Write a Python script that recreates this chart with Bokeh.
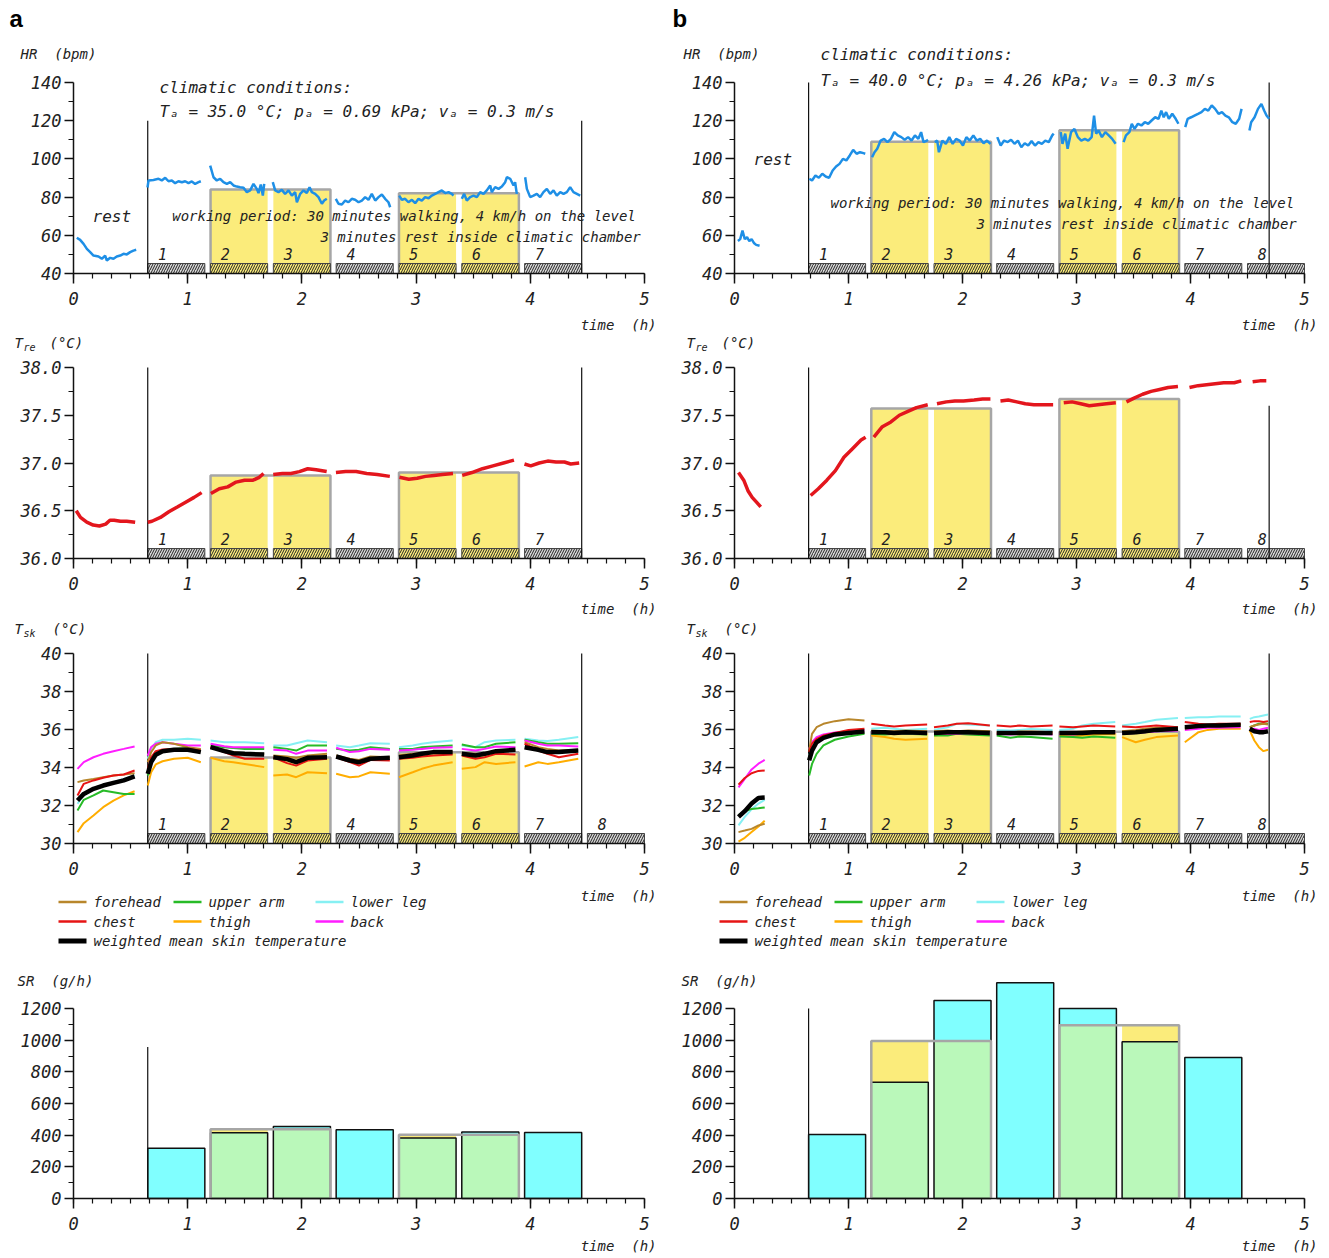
from bokeh.plotting import figure
from bokeh.models import Range1d, LinearAxis, FixedTicker, Label, PrintfTickFormatter
from bokeh.layouts import column, row
from bokeh.embed import file_html
from bokeh.resources import INLINE

nan = float("nan")

# ------------------------------------------------------------------ data
PERIOD_START = [0.65, 1.20, 1.75, 2.30, 2.85, 3.40, 3.95, 4.50]
PERIOD_END = [1.15, 1.70, 2.25, 2.80, 3.35, 3.90, 4.45, 5.00]
PERIOD_NAMES = ["1", "2", "3", "4", "5", "6", "7", "8"]
WORK_PAIRS = [(1, 2), (4, 5)]          # periods 2-3 and 5-6
WORK_IDX = [1, 2, 4, 5]

X_TICKS = [0, 1, 2, 3, 4, 5]
X_MINOR = [k / 6 for k in range(31)]
HR_TICKS = [40, 60, 80, 100, 120, 140]
HR_MINOR = [50, 70, 90, 110, 130]
TRE_TICKS = [36.0, 36.5, 37.0, 37.5, 38.0]
TRE_MINOR = [36.25, 36.75, 37.25, 37.75]
TSK_TICKS = [30, 32, 34, 36, 38, 40]
TSK_MINOR = [31, 33, 35, 37, 39]
SR_TICKS = [0, 200, 400, 600, 800, 1000, 1200]
SR_MINOR = [100, 300, 500, 700, 900, 1100]

# heart rate, panel a
HR_A_T = [0.029, 0.058, 0.088, 0.117, 0.146, 0.175, 0.219, 0.248, 0.277, 0.292, 0.321, 0.35, 0.379, 0.409, 0.438, 0.467, 0.496, 0.525, 0.549, nan,
          0.648, 0.657, 0.70, 0.744, 0.773, 0.803, 0.832, 0.861, 0.89, 0.919, 0.949, 0.978, 1.007, 1.036, 1.065, 1.095, 1.115, nan,
          1.197, 1.226, 1.255, 1.284, 1.313, 1.343, 1.372, 1.401, 1.430, 1.459, 1.489, 1.518, 1.547, 1.576, 1.605, 1.62, 1.64, 1.658, 1.67, nan,
          1.745, 1.766, 1.795, 1.824, 1.853, 1.883, 1.912, 1.941, 1.956, 1.985, 2.014, 2.043, 2.067, 2.087, 2.116, 2.145, 2.175, 2.195, 2.218, nan,
          2.297, 2.32, 2.35, 2.379, 2.408, 2.437, 2.466, 2.496, 2.525, 2.554, 2.583, 2.612, 2.642, 2.671, 2.7, 2.729, 2.758, 2.773, nan,
          2.852, 2.875, 2.904, 2.933, 2.963, 2.992, 3.021, 3.05, 3.079, 3.109, 3.138, 3.167, 3.196, 3.225, 3.255, 3.284, 3.313, 3.327, nan,
          3.40, 3.421, 3.444, 3.473, 3.503, 3.532, 3.561, 3.59, 3.619, 3.649, 3.663, 3.692, 3.722, 3.751, 3.78, 3.795, 3.824, 3.853, 3.867, 3.882, nan,
          3.955, 3.97, 3.999, 4.028, 4.057, 4.086, 4.115, 4.145, 4.174, 4.203, 4.232, 4.262, 4.291, 4.32, 4.349, 4.378, 4.408, 4.437]
HR_A_V = [58.7, 57.6, 55.5, 52.9, 51.2, 49.4, 48.9, 47.7, 49.4, 46.8, 48.2, 47.7, 48.9, 49.4, 50.3, 50.0, 51.2, 52.0, 52.4, nan,
          85.0, 88.7, 89.0, 89.6, 88.7, 90.1, 88.3, 88.7, 87.3, 88.3, 87.8, 88.3, 87.3, 88.2, 86.9, 87.8, 88.3, nan,
          96.5, 90.4, 88.7, 89.6, 87.8, 86.9, 87.8, 86.1, 85.5, 85.2, 84.9, 82.6, 83.5, 86.9, 84.3, 82.1, 86.6, 80.8, 86.9, nan,
          87.8, 83.5, 82.6, 83.8, 81.7, 83.5, 80.8, 82.6, 77.3, 81.7, 83.5, 82.1, 85.2, 82.6, 81.7, 80.0, 76.5, 78.2, 79.1, nan,
          79.1, 76.5, 76.1, 78.2, 77.3, 79.1, 78.6, 77.3, 78.2, 80.0, 78.6, 81.7, 78.2, 80.0, 81.4, 79.1, 77.3, 74.7, nan,
          80.8, 78.6, 79.1, 77.3, 78.6, 76.8, 79.1, 78.2, 80.0, 79.4, 80.8, 81.7, 82.6, 83.5, 82.1, 82.6, 81.7, 80.8, nan,
          79.1, 81.7, 78.2, 80.0, 80.8, 80.0, 82.6, 81.7, 83.5, 86.1, 82.6, 85.2, 84.3, 85.5, 87.8, 90.4, 89.6, 86.1, 87.8, 81.7, nan,
          90.4, 84.3, 80.0, 80.8, 81.7, 80.0, 82.6, 84.3, 81.7, 83.5, 80.8, 82.6, 81.7, 82.6, 85.2, 82.6, 81.7, 80.8]

# heart rate, panel b
HR_B_T = [0.03, 0.05, 0.07, 0.09, 0.11, 0.13, 0.15, 0.17, 0.19, 0.22, nan,
          0.656, 0.68, 0.71, 0.74, 0.77, 0.80, 0.83, 0.861, 0.891, 0.921, 0.951, 0.981, 1.011, 1.041, 1.071, 1.101, 1.131, 1.147, nan,
          1.207, 1.228, 1.252, 1.282, 1.312, 1.342, 1.372, 1.402, 1.432, 1.463, 1.493, 1.523, 1.553, 1.583, 1.613, 1.637, 1.658, 1.688, 1.697, nan,
          1.757, 1.778, 1.793, 1.823, 1.854, 1.884, 1.914, 1.944, 1.974, 2.004, 2.034, 2.064, 2.095, 2.125, 2.155, 2.185, 2.215, 2.245, nan,
          2.305, 2.335, 2.365, 2.397, 2.426, 2.456, 2.486, 2.516, 2.546, 2.576, 2.606, 2.636, 2.666, 2.696, 2.726, 2.757, 2.787, 2.80, nan,
          2.862, 2.877, 2.901, 2.922, 2.952, 2.982, 3.012, 3.042, 3.073, 3.103, 3.133, 3.154, 3.172, 3.193, 3.223, 3.253, 3.283, 3.313, 3.343, nan,
          3.413, 3.434, 3.464, 3.485, 3.509, 3.539, 3.569, 3.599, 3.629, 3.659, 3.69, 3.72, 3.744, 3.765, 3.786, 3.81, 3.84, 3.87, 3.894, nan,
          3.954, 3.975, 4.005, 4.035, 4.066, 4.096, 4.126, 4.156, 4.186, 4.216, 4.246, 4.276, 4.306, 4.336, 4.367, 4.397, 4.427, 4.448, nan,
          4.517, 4.532, 4.562, 4.592, 4.622, 4.646, 4.667, 4.69]
HR_B_V = [57.0, 58.0, 62.5, 58.0, 59.0, 57.0, 58.0, 56.0, 55.0, 54.5, nan,
          89.6, 88.7, 91.3, 90.1, 92.2, 90.8, 90.1, 93.9, 96.0, 97.4, 100.0, 99.2, 101.8, 104.7, 102.7, 103.5, 103.0, 102.7, nan,
          100.9, 103.5, 105.3, 109.6, 110.5, 108.8, 110.5, 114.0, 112.3, 111.4, 110.0, 111.4, 109.6, 112.3, 110.5, 114.0, 108.8, 109.6, 110.0, nan,
          108.8, 109.6, 103.5, 109.6, 107.9, 111.4, 107.9, 110.5, 109.6, 107.0, 111.4, 109.6, 112.3, 109.6, 110.5, 108.2, 109.6, 107.9, nan,
          111.4, 107.0, 109.6, 108.8, 110.0, 107.9, 109.6, 106.1, 108.2, 107.0, 109.3, 107.0, 108.8, 107.9, 109.6, 108.8, 112.3, 113.2, nan,
          114.0, 107.9, 113.2, 105.3, 114.0, 115.7, 111.4, 109.6, 110.5, 109.6, 111.4, 122.7, 113.2, 114.9, 111.4, 114.0, 112.3, 110.5, 107.9, nan,
          108.8, 112.3, 114.0, 118.4, 115.7, 118.4, 117.5, 119.2, 118.4, 120.1, 121.8, 121.0, 125.3, 121.8, 124.5, 121.0, 123.6, 121.0, 118.4, nan,
          116.6, 121.0, 121.8, 122.7, 123.6, 124.5, 126.2, 125.3, 128.0, 126.2, 123.6, 124.5, 122.7, 121.8, 119.2, 118.4, 121.0, 126.2, nan,
          114.9, 119.2, 121.8, 126.2, 128.8, 125.3, 122.7, 121.0]

# rectal temperature
TRE_A_T = [0.024, 0.061, 0.116, 0.172, 0.227, 0.282, 0.319, 0.356, 0.411, 0.466, 0.54, nan,
           0.65, 0.687, 0.761, 0.835, 0.909, 0.982, 1.056, 1.122, nan,
           1.203, 1.277, 1.351, 1.424, 1.498, 1.572, 1.627, 1.664, nan,
           1.749, 1.83, 1.904, 1.978, 2.051, 2.125, 2.217, nan,
           2.298, 2.383, 2.475, 2.567, 2.659, 2.77, nan,
           2.854, 2.936, 3.009, 3.083, 3.157, 3.231, 3.323, nan,
           3.404, 3.489, 3.581, 3.673, 3.765, 3.857, nan,
           3.949, 4.004, 4.078, 4.152, 4.225, 4.299, 4.354, 4.428]
TRE_A_V = [36.50, 36.43, 36.38, 36.35, 36.34, 36.36, 36.40, 36.40, 36.39, 36.39, 36.38, nan,
           36.38, 36.39, 36.43, 36.49, 36.54, 36.59, 36.64, 36.69, nan,
           36.68, 36.73, 36.75, 36.80, 36.82, 36.82, 36.85, 36.89, nan,
           36.88, 36.89, 36.89, 36.91, 36.94, 36.93, 36.91, nan,
           36.90, 36.91, 36.91, 36.89, 36.88, 36.86, nan,
           36.85, 36.83, 36.84, 36.86, 36.87, 36.88, 36.89, nan,
           36.87, 36.90, 36.94, 36.97, 37.00, 37.03, nan,
           36.99, 36.97, 37.00, 37.02, 37.01, 37.01, 36.99, 37.00]
TRE_B_T = [0.035, 0.081, 0.118, 0.155, 0.193, 0.23, nan,
           0.668, 0.735, 0.81, 0.885, 0.96, 1.035, 1.11, 1.15, nan,
           1.222, 1.297, 1.372, 1.446, 1.521, 1.596, 1.695, nan,
           1.776, 1.858, 1.933, 2.008, 2.102, 2.176, 2.245, nan,
           2.333, 2.401, 2.476, 2.551, 2.626, 2.72, 2.795, nan,
           2.888, 2.962, 3.037, 3.112, 3.187, 3.262, 3.345, nan,
           3.438, 3.505, 3.58, 3.654, 3.729, 3.804, 3.89, nan,
           3.991, 4.066, 4.141, 4.216, 4.291, 4.384, 4.445, nan,
           4.545, 4.609, 4.665]
TRE_B_V = [36.90, 36.82, 36.71, 36.64, 36.59, 36.54, nan,
           36.66, 36.73, 36.82, 36.92, 37.06, 37.15, 37.24, 37.27, nan,
           37.27, 37.38, 37.43, 37.50, 37.54, 37.58, 37.61, nan,
           37.62, 37.64, 37.65, 37.65, 37.66, 37.67, 37.67, nan,
           37.65, 37.66, 37.64, 37.62, 37.61, 37.61, 37.61, nan,
           37.63, 37.64, 37.62, 37.60, 37.61, 37.62, 37.63, nan,
           37.64, 37.68, 37.72, 37.75, 37.77, 37.79, 37.80, nan,
           37.79, 37.81, 37.82, 37.83, 37.84, 37.84, 37.86, nan,
           37.85, 37.86, 37.86]

# skin temperatures, panel a
TSK_A_T = [0.035, 0.09, 0.175, 0.26, 0.35, 0.44, 0.535, nan,
           0.65, 0.68, 0.72, 0.78, 0.88, 1.0, 1.115, nan,
           1.2, 1.32, 1.4, 1.5, 1.67, nan,
           1.75, 1.87, 1.95, 2.05, 2.22, nan,
           2.3, 2.42, 2.5, 2.6, 2.77, nan,
           2.85, 2.97, 3.05, 3.15, 3.32, nan,
           3.4, 3.52, 3.6, 3.7, 3.87, nan,
           3.95, 4.07, 4.15, 4.25, 4.42]
TSK_A_FOREHEAD = [33.23, 33.32, 33.40, 33.49, 33.58, 33.63, 33.70, nan,
                  34.28, 34.81, 35.16, 35.33, 35.25, 35.07, 34.98, nan,
                  35.07, 34.93, 34.81, 34.72, 34.72, nan,
                  34.63, 34.58, 34.51, 34.63, 34.72, nan,
                  34.63, 34.46, 34.40, 34.58, 34.54, nan,
                  34.63, 34.72, 34.75, 34.81, 34.81, nan,
                  34.75, 34.72, 34.68, 34.86, 34.93, nan,
                  35.33, 35.07, 34.98, 34.89, 34.93]
TSK_A_UPPER_ARM = [31.74, 32.30, 32.53, 32.79, 32.70, 32.61, 32.61, nan,
                   33.58, 34.28, 34.68, 34.89, 34.98, 35.02, 34.89, nan,
                   35.16, 35.07, 35.02, 34.98, 34.98, nan,
                   35.07, 34.98, 34.89, 35.16, 35.16, nan,
                   34.98, 34.89, 34.93, 35.07, 34.98, nan,
                   34.98, 34.98, 35.07, 35.11, 35.16, nan,
                   35.21, 35.07, 35.07, 35.25, 35.33, nan,
                   35.46, 35.33, 35.25, 35.25, 35.28]
TSK_A_LOWER_LEG = [32.09, 32.56, 32.88, 33.05, 33.23, 33.40, 33.58, nan,
                   34.46, 34.98, 35.33, 35.46, 35.46, 35.51, 35.46, nan,
                   35.42, 35.33, 35.33, 35.33, 35.28, nan,
                   35.16, 35.16, 35.28, 35.42, 35.33, nan,
                   35.16, 35.07, 35.16, 35.28, 35.25, nan,
                   35.07, 35.16, 35.25, 35.33, 35.42, nan,
                   35.16, 35.07, 35.33, 35.42, 35.46, nan,
                   35.51, 35.42, 35.39, 35.46, 35.60]
TSK_A_CHEST = [32.53, 33.14, 33.32, 33.46, 33.58, 33.63, 33.84, nan,
               33.93, 34.54, 34.86, 34.95, 34.98, 34.98, 34.89, nan,
               35.07, 34.81, 34.63, 34.46, 34.46, nan,
               34.54, 34.23, 34.10, 34.37, 34.46, nan,
               34.54, 34.28, 34.10, 34.40, 34.37, nan,
               34.46, 34.51, 34.58, 34.63, 34.68, nan,
               34.63, 34.46, 34.54, 34.72, 34.68, nan,
               35.25, 34.89, 34.72, 34.54, 34.72]
TSK_A_THIGH = [30.60, 31.07, 31.47, 31.91, 32.26, 32.53, 32.75, nan,
               33.05, 33.75, 34.16, 34.33, 34.46, 34.51, 34.28, nan,
               34.51, 34.33, 34.28, 34.19, 34.02, nan,
               33.58, 33.63, 33.49, 33.75, 33.70, nan,
               33.67, 33.49, 33.53, 33.75, 33.67, nan,
               33.49, 33.75, 33.93, 34.10, 34.28, nan,
               33.93, 34.02, 34.28, 34.19, 34.28, nan,
               34.05, 34.28, 34.19, 34.28, 34.46]
TSK_A_BACK = [33.93, 34.28, 34.54, 34.72, 34.86, 34.98, 35.11, nan,
              34.63, 35.07, 35.25, 35.33, 35.25, 35.16, 35.16, nan,
              35.25, 35.12, 35.07, 35.07, 35.07, nan,
              34.93, 34.89, 34.72, 34.89, 34.89, nan,
              35.04, 34.81, 34.86, 34.98, 34.93, nan,
              34.89, 34.93, 34.98, 35.04, 35.07, nan,
              34.98, 34.89, 34.98, 35.11, 35.07, nan,
              35.42, 35.25, 35.16, 35.16, 35.11]
TSK_A_MEAN = [32.26, 32.61, 32.88, 33.05, 33.19, 33.32, 33.53, nan,
              33.67, 34.28, 34.67, 34.86, 34.93, 34.93, 34.81, nan,
              35.07, 34.86, 34.75, 34.72, 34.68, nan,
              34.54, 34.44, 34.28, 34.51, 34.54, nan,
              34.58, 34.37, 34.28, 34.46, 34.51, nan,
              34.54, 34.63, 34.72, 34.81, 34.81, nan,
              34.72, 34.63, 34.72, 34.86, 34.93, nan,
              35.07, 34.93, 34.81, 34.81, 34.89]

# skin temperatures, panel b
TSK_B_T = [0.035, 0.09, 0.15, 0.21, 0.265, nan,
           0.655, 0.68, 0.72, 0.78, 0.88, 1.0, 1.14, nan,
           1.2, 1.32, 1.4, 1.5, 1.69, nan,
           1.75, 1.87, 1.95, 2.05, 2.24, nan,
           2.3, 2.42, 2.5, 2.6, 2.79, nan,
           2.85, 2.97, 3.05, 3.15, 3.34, nan,
           3.4, 3.52, 3.6, 3.7, 3.89, nan,
           3.95, 4.07, 4.15, 4.25, 4.44, nan,
           4.52, 4.56, 4.6, 4.64, 4.68]
TSK_B_FOREHEAD = [30.60, 30.68, 30.77, 30.95, 31.04, nan,
                  34.89, 35.77, 36.12, 36.30, 36.44, 36.54, 36.47, nan,
                  35.95, 35.91, 35.91, 35.95, 35.91, nan,
                  35.91, 35.95, 35.91, 35.95, 35.91, nan,
                  35.86, 35.86, 35.89, 35.89, 35.86, nan,
                  35.86, 35.86, 35.89, 35.91, 35.91, nan,
                  35.91, 35.98, 36.04, 36.09, 36.12, nan,
                  36.04, 36.16, 36.21, 36.21, 36.25, nan,
                  36.12, 36.21, 36.26, 36.30, 36.26]
TSK_B_UPPER_ARM = [31.50, 31.70, 31.82, 31.85, 31.90, nan,
                   33.58, 34.19, 34.72, 35.16, 35.46, 35.63, 35.77, nan,
                   35.77, 35.74, 35.77, 35.77, 35.74, nan,
                   35.68, 35.68, 35.77, 35.74, 35.68, nan,
                   35.68, 35.56, 35.63, 35.60, 35.51, nan,
                   35.63, 35.60, 35.56, 35.63, 35.56, nan,
                   35.77, 35.81, 35.86, 35.95, 36.04, nan,
                   36.09, 36.16, 36.21, 36.21, 36.25, nan,
                   36.12, 36.21, 36.30, 36.33, 36.30]
TSK_B_LOWER_LEG = [30.95, 31.40, 31.80, 32.10, 32.30, nan,
                   34.63, 35.07, 35.39, 35.60, 35.74, 35.81, 35.86, nan,
                   36.04, 36.09, 36.04, 35.98, 36.04, nan,
                   35.98, 36.12, 36.30, 36.26, 36.21, nan,
                   35.98, 35.95, 35.98, 36.02, 35.98, nan,
                   35.98, 36.04, 36.21, 36.30, 36.39, nan,
                   36.21, 36.30, 36.39, 36.51, 36.61, nan,
                   36.61, 36.65, 36.65, 36.68, 36.68, nan,
                   36.56, 36.65, 36.68, 36.74, 36.79]
TSK_B_CHEST = [33.10, 33.45, 33.70, 33.82, 33.84, nan,
               34.81, 35.25, 35.51, 35.68, 35.82, 35.98, 36.04, nan,
               36.30, 36.21, 36.16, 36.21, 36.26, nan,
               36.12, 36.21, 36.30, 36.33, 36.21, nan,
               36.21, 36.16, 36.21, 36.16, 36.21, nan,
               36.16, 36.12, 36.16, 36.21, 36.16, nan,
               36.16, 36.12, 36.16, 36.21, 36.12, nan,
               36.39, 36.30, 36.26, 36.30, 36.30, nan,
               36.39, 36.44, 36.44, 36.39, 36.44]
TSK_B_THIGH = [30.10, 30.30, 30.60, 30.90, 31.20, nan,
               34.54, 34.98, 35.33, 35.56, 35.72, 35.81, 35.86, nan,
               35.68, 35.60, 35.51, 35.46, 35.51, nan,
               35.68, 35.77, 35.77, 35.77, 35.74, nan,
               35.77, 35.77, 35.74, 35.77, 35.77, nan,
               35.68, 35.63, 35.68, 35.74, 35.77, nan,
               35.60, 35.33, 35.46, 35.60, 35.68, nan,
               35.33, 35.86, 35.98, 36.04, 36.04, nan,
               35.95, 35.42, 35.07, 34.86, 34.93]
TSK_B_BACK = [32.95, 33.40, 33.90, 34.20, 34.40, nan,
              34.98, 35.33, 35.60, 35.74, 35.84, 35.89, 35.95, nan,
              35.86, 35.81, 35.77, 35.81, 35.77, nan,
              35.81, 35.77, 35.77, 35.81, 35.77, nan,
              35.77, 35.74, 35.77, 35.77, 35.74, nan,
              35.77, 35.74, 35.77, 35.81, 35.81, nan,
              35.77, 35.81, 35.86, 35.91, 35.95, nan,
              35.98, 36.04, 36.09, 36.09, 36.12, nan,
              36.04, 36.04, 35.98, 36.04, 36.09]
TSK_B_MEAN = [31.40, 31.70, 32.10, 32.40, 32.42, nan,
              34.37, 34.89, 35.33, 35.56, 35.74, 35.82, 35.89, nan,
              35.86, 35.86, 35.82, 35.86, 35.82, nan,
              35.82, 35.86, 35.86, 35.86, 35.82, nan,
              35.82, 35.81, 35.82, 35.82, 35.81, nan,
              35.82, 35.82, 35.82, 35.86, 35.86, nan,
              35.82, 35.86, 35.91, 35.98, 36.04, nan,
              36.12, 36.18, 36.21, 36.21, 36.25, nan,
              36.04, 35.91, 35.86, 35.86, 35.91]

# predicted levels (grey boxes) for work pairs 2-3 and 5-6
HR_A_PRED = [84.0, 82.0]
HR_B_PRED = [109.0, 115.0]
TRE_A_PRED = [36.87, 36.90]
TRE_B_PRED = [37.57, 37.67]
TSK_A_PRED = [34.52, 34.80]
TSK_B_PRED = [35.90, 35.88]
SR_A_PRED = [437, 403]
SR_B_PRED = [995, 1095]

# measured sweat rate per period 1..7
SR_A_MEAS = [318, 415, 455, 435, 382, 420, 417]
SR_B_MEAS = [405, 735, 1250, 1362, 1200, 990, 890]

# chamber entry / exit lines: (time, top value)
CH_HR_A = [(0.65, 120), (4.45, 120)]
CH_HR_B = [(0.65, 140), (4.69, 140)]
CH_TRE_A = [(0.65, 38.0), (4.45, 38.0)]
CH_TRE_B = [(0.65, 38.0), (4.69, 37.6)]
CH_TSK_A = [(0.65, 40), (4.45, 40)]
CH_TSK_B = [(0.65, 40), (4.69, 40)]
CH_SR_A = [(0.65, 957)]
CH_SR_B = [(0.65, 1200)]

LEGEND_NAMES = ["forehead", "upper arm", "lower leg", "chest", "thigh", "back",
                "weighted mean skin temperature"]

# ------------------------------------------------------------------ style / layout
FONT = "DejaVu Sans Mono"
BLUE = "#1e8fe6"
RED_RE = "#e3161d"
YELLOW = "#fbec7b"
GREY = "#a6a6a6"
HATCH_BG = "#d8d8d8"
CYAN = "#80ffff"
GREEN = "#baf8ba"
C_FOREHEAD = "#b8862b"
C_ARM = "#27bb27"
C_LEG = "#86f0f3"
C_CHEST = "#e61414"
C_THIGH = "#ffad00"
C_BACK = "#ff1dff"
LEG_COLORS = [C_FOREHEAD, C_ARM, C_LEG, C_CHEST, C_THIGH, C_BACK, "black"]

# page pixel geometry (layout starts at page 0,0)
COLS = {
    "a": dict(left=0, width=668, x0=73.0, sx=114.2),
    "b": dict(left=668, width=653, x0=734.0, sx=114.0),
}
ROWS = {
    "hr": dict(top=0, height=333, y0=273.0, sy=1.91, ymin=40.0),
    "tre": dict(top=333, height=285, y0=558.0, sy=95.5, ymin=36.0),
    "tsk": dict(top=618, height=337, y0=843.0, sy=19.0, ymin=30.0),
    "sr": dict(top=955, height=301, y0=1198.0, sy=190.0 / 1200.0, ymin=0.0),
}


def make_fig(ck, rk, yticks, yminor, ytop, fmt=None):
    C, R = COLS[ck], ROWS[rk]

    def X(px):
        return (px - C["x0"]) / C["sx"]

    def Y(py):
        return R["ymin"] + (R["y0"] - py) / R["sy"]

    p = figure(width=C["width"], height=R["height"], title=None,
               x_range=Range1d(X(C["left"]), X(C["left"] + C["width"])),
               y_range=Range1d(Y(R["top"] + R["height"]), Y(R["top"])),
               output_backend="svg", toolbar_location=None, tools="",
               x_axis_location=None, y_axis_location=None,
               min_border_left=0, min_border_right=0, min_border_top=0, min_border_bottom=0)
    p.outline_line_color = None
    p.grid.visible = False
    p.background_fill_color = "white"
    p.border_fill_color = "white"
    xa = LinearAxis(fixed_location=R["ymin"], bounds=(0, 5),
                    ticker=FixedTicker(ticks=X_TICKS, minor_ticks=X_MINOR))
    ya = LinearAxis(fixed_location=0, bounds=(R["ymin"], ytop),
                    ticker=FixedTicker(ticks=yticks, minor_ticks=yminor))
    for ax in (xa, ya):
        ax.axis_line_width = 1.5
        ax.axis_line_color = "#111111"
        ax.major_tick_line_color = "#111111"
        ax.minor_tick_line_color = "#111111"
        ax.major_tick_line_width = 1.5
        ax.minor_tick_line_width = 1.2
        ax.major_tick_in = 0
        ax.minor_tick_in = 0
        ax.major_label_text_font = FONT
        ax.major_label_text_font_style = "italic"
        ax.major_label_text_font_size = "17px"
        ax.major_label_text_color = "#222222"
    xa.major_tick_out = 10
    xa.minor_tick_out = 5
    xa.major_label_standoff = 8
    ya.major_tick_out = 9
    ya.minor_tick_out = 5
    ya.major_label_standoff = 3
    if fmt:
        ya.formatter = PrintfTickFormatter(format=fmt)
    p.add_layout(xa, "below")
    p.add_layout(ya, "left")
    return p, X, Y


def txt(p, x, y, s, size=14, align="left", style="italic", font=FONT, color="#222222"):
    p.add_layout(Label(x=x, y=y, text=s, text_font=font, text_font_size=f"{size}px",
                       text_font_style=style, text_align=align, text_baseline="middle",
                       text_color=color))


def work_boxes(p, ymin, levels):
    for (i, j), lvl in zip(WORK_PAIRS, levels):
        p.quad(left=[PERIOD_START[i], PERIOD_START[j]], right=[PERIOD_END[i], PERIOD_END[j]],
               bottom=[ymin, ymin], top=[lvl, lvl], fill_color=YELLOW, line_color=None)
        p.line([PERIOD_START[i], PERIOD_START[i], PERIOD_END[j], PERIOD_END[j]],
               [ymin, lvl, lvl, ymin], line_color=GREY, line_width=2.5)


def period_strip(p, R, Y, n):
    ymin = R["ymin"]
    htop = Y(R["y0"] - 10)
    lefts = PERIOD_START[:n]
    rights = PERIOD_END[:n]
    fills = [YELLOW if k in WORK_IDX else HATCH_BG for k in range(n)]
    p.quad(left=lefts, right=rights, bottom=[ymin] * n, top=[htop] * n,
           fill_color=fills, line_color="#444444", line_width=1,
           hatch_pattern="/", hatch_color="#222222", hatch_scale=5, hatch_weight=1)
    ylab = Y(R["y0"] - 19.5)
    for k in range(n):
        txt(p, PERIOD_START[k] + 0.13, ylab, PERIOD_NAMES[k], size=15, align="center")


def chamber(p, ymin, lines):
    p.segment(x0=[t for t, _ in lines], y0=[ymin] * len(lines),
              x1=[t for t, _ in lines], y1=[top for _, top in lines],
              line_color="#111111", line_width=1.2)


def time_label(p, C, R, X, Y, py):
    txt(p, X(C["x0"] + 583), Y(py), "time\u00a0\u00a0(h)", size=14, align="right")


def sub_title(p, X, Y, px, py, main, sub, rest, rest_dx):
    txt(p, X(px), Y(py), main, size=14)
    txt(p, X(px + 9), Y(py + 5), sub, size=10)
    txt(p, X(px + rest_dx), Y(py), rest, size=14)


figs = {}

# ---------------- HR
for ck, hr_t, hr_v, pred, ch in (("a", HR_A_T, HR_A_V, HR_A_PRED, CH_HR_A),
                                 ("b", HR_B_T, HR_B_V, HR_B_PRED, CH_HR_B)):
    C, R = COLS[ck], ROWS["hr"]
    p, X, Y = make_fig(ck, "hr", HR_TICKS, HR_MINOR, 140)
    work_boxes(p, 40, pred)
    period_strip(p, R, Y, 7 if ck == "a" else 8)
    chamber(p, 40, ch)
    p.line(hr_t, hr_v, line_color=BLUE, line_width=2.5)
    if ck == "a":
        txt(p, X(9), Y(18), "a", size=24, style="bold", font="Liberation Sans", color="black")
        txt(p, X(20), Y(53), "HR\u00a0\u00a0(bpm)")
        txt(p, X(159), Y(87), "climatic conditions:", size=16)
        txt(p, X(159), Y(111), "T\u2090 = 35.0 \u00b0C; p\u2090 = 0.69 kPa; v\u2090 = 0.3 m/s", size=16)
        txt(p, X(92), Y(216), "rest", size=16)
        txt(p, X(171.7), Y(215), "working period: 30 minutes walking, 4 km/h on the level")
        txt(p, X(320), Y(236), "3 minutes rest inside climatic chamber")
    else:
        txt(p, X(672), Y(18), "b", size=24, style="bold", font="Liberation Sans", color="black")
        txt(p, X(683), Y(53), "HR\u00a0\u00a0(bpm)")
        txt(p, X(820), Y(54), "climatic conditions:", size=16)
        txt(p, X(820), Y(80), "T\u2090 = 40.0 \u00b0C; p\u2090 = 4.26 kPa; v\u2090 = 0.3 m/s", size=16)
        txt(p, X(753), Y(159), "rest", size=16)
        txt(p, X(830), Y(202), "working period: 30 minutes walking, 4 km/h on the level")
        txt(p, X(976), Y(223), "3 minutes rest inside climatic chamber")
    time_label(p, C, R, X, Y, 324)
    figs[("hr", ck)] = p

# ---------------- Tre
for ck, t, v, pred, ch, tx in (("a", TRE_A_T, TRE_A_V, TRE_A_PRED, CH_TRE_A, 14),
                               ("b", TRE_B_T, TRE_B_V, TRE_B_PRED, CH_TRE_B, 686)):
    C, R = COLS[ck], ROWS["tre"]
    p, X, Y = make_fig(ck, "tre", TRE_TICKS, TRE_MINOR, 38.0, fmt="%.1f")
    work_boxes(p, 36.0, pred)
    period_strip(p, R, Y, 7 if ck == "a" else 8)
    chamber(p, 36.0, ch)
    p.line(t, v, line_color=RED_RE, line_width=3.5)
    sub_title(p, X, Y, tx, 342, "T", "re", "(\u00b0C)", 35)
    time_label(p, C, R, X, Y, 608)
    figs[("tre", ck)] = p

# ---------------- Tsk
TSK_SETS = {
    "a": (TSK_A_T, [TSK_A_FOREHEAD, TSK_A_UPPER_ARM, TSK_A_LOWER_LEG, TSK_A_CHEST,
                    TSK_A_THIGH, TSK_A_BACK, TSK_A_MEAN], TSK_A_PRED, CH_TSK_A, 14),
    "b": (TSK_B_T, [TSK_B_FOREHEAD, TSK_B_UPPER_ARM, TSK_B_LOWER_LEG, TSK_B_CHEST,
                    TSK_B_THIGH, TSK_B_BACK, TSK_B_MEAN], TSK_B_PRED, CH_TSK_B, 686),
}
DRAW_ORDER = [4, 2, 1, 5, 0, 3, 6]
LEG_POS = [(0, 0), (1, 0), (2, 0), (0, 1), (1, 1), (2, 1), (0, 2)]
LEG_COL_PX = [-15, 100, 242]
LEG_ROW_PY = [901.5, 921, 940.5]
for ck in ("a", "b"):
    t, series, pred, ch, tx = TSK_SETS[ck]
    C, R = COLS[ck], ROWS["tsk"]
    p, X, Y = make_fig(ck, "tsk", TSK_TICKS, TSK_MINOR, 40)
    work_boxes(p, 30, pred)
    period_strip(p, R, Y, 8)
    chamber(p, 30, ch)
    for k in DRAW_ORDER:
        p.line(t, series[k], line_color=LEG_COLORS[k], line_width=4.5 if k == 6 else 2)
    sub_title(p, X, Y, tx, 628, "T", "sk", "(\u00b0C)", 38)
    time_label(p, C, R, X, Y, 895)
    for k, (cc, rr) in enumerate(LEG_POS):
        x0 = C["x0"] + LEG_COL_PX[cc]
        yy = Y(LEG_ROW_PY[rr])
        p.line([X(x0), X(x0 + 28)], [yy, yy], line_color=LEG_COLORS[k],
               line_width=5 if k == 6 else 2.5)
        txt(p, X(x0 + 35), yy, LEGEND_NAMES[k])
    figs[("tsk", ck)] = p

# ---------------- SR
for ck, meas, pred, ch, tx in (("a", SR_A_MEAS, SR_A_PRED, CH_SR_A, 17),
                               ("b", SR_B_MEAS, SR_B_PRED, CH_SR_B, 681)):
    C, R = COLS[ck], ROWS["sr"]
    p, X, Y = make_fig(ck, "sr", SR_TICKS, SR_MINOR, 1200)
    L, Rt = PERIOD_START[:7], PERIOD_END[:7]
    p.quad(left=L, right=Rt, bottom=[0] * 7, top=meas, fill_color=CYAN, line_color=None)
    for (i, j), lvl in zip(WORK_PAIRS, pred):
        for k in (i, j):
            p.quad(left=[PERIOD_START[k]], right=[PERIOD_END[k]], bottom=[0],
                   top=[min(meas[k], lvl)], fill_color=GREEN, line_color=None)
            if lvl > meas[k]:
                p.quad(left=[PERIOD_START[k]], right=[PERIOD_END[k]], bottom=[meas[k]],
                       top=[lvl], fill_color=YELLOW, line_color=None)
    p.quad(left=L, right=Rt, bottom=[0] * 7, top=meas, fill_color=None,
           line_color="#111111", line_width=1.5)
    for (i, j), lvl in zip(WORK_PAIRS, pred):
        p.line([PERIOD_START[i], PERIOD_START[i], PERIOD_END[j], PERIOD_END[j]],
               [0, lvl, lvl, 0], line_color=GREY, line_width=2.5)
    chamber(p, 0, ch)
    txt(p, X(tx), Y(980), "SR\u00a0\u00a0(g/h)")
    time_label(p, C, R, X, Y, 1245)
    figs[("sr", ck)] = p

layout = column(
    row(figs[("hr", "a")], figs[("hr", "b")]),
    row(figs[("tre", "a")], figs[("tre", "b")]),
    row(figs[("tsk", "a")], figs[("tsk", "b")]),
    row(figs[("sr", "a")], figs[("sr", "b")]),
)

open("out.html", "w").write(file_html(layout, INLINE))
